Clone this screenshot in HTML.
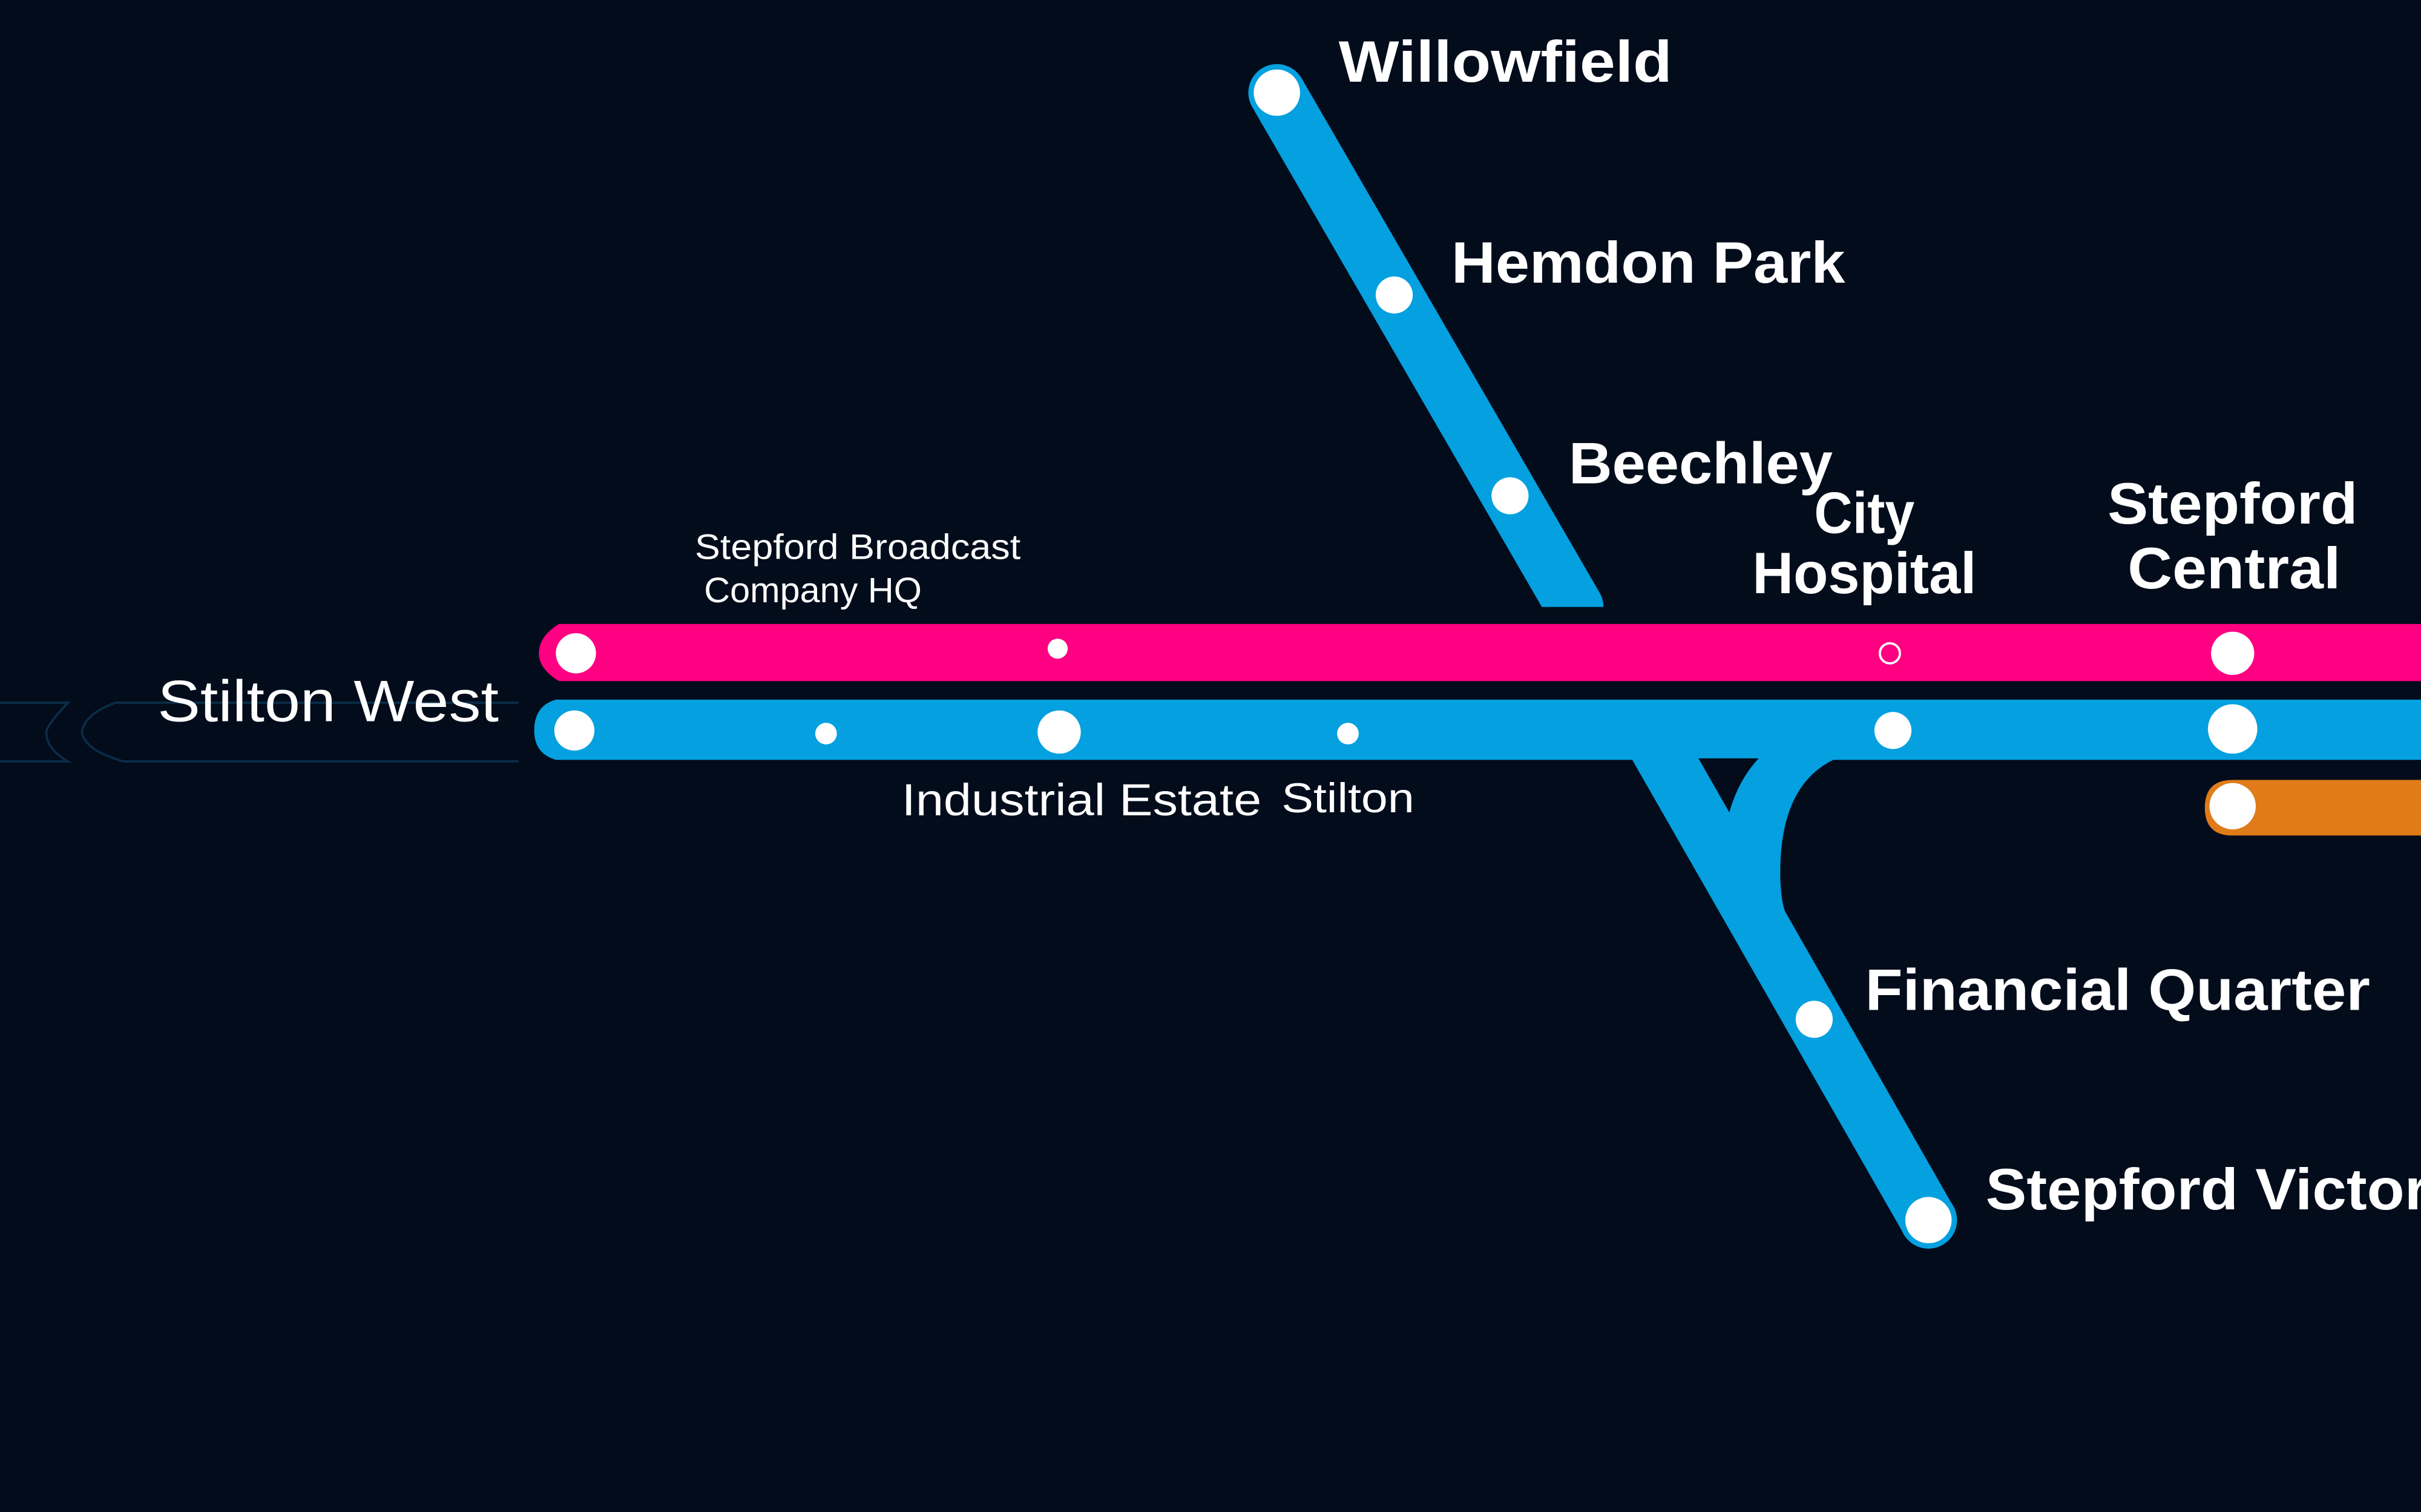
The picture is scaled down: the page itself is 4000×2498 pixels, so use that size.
<!DOCTYPE html>
<html><head><meta charset="utf-8"><style>
html,body{margin:0;padding:0;background:#020c1b;}
svg{display:block;}
text{font-family:"Liberation Sans",sans-serif;fill:#fff;}
.b{font-weight:bold;font-size:38px;}
</style></head><body>
<svg width="4000" height="2498" viewBox="0 0 1568 979" preserveAspectRatio="none" xmlns="http://www.w3.org/2000/svg">
<rect width="1568" height="979" fill="#020c1b"/>
<path d="M0,455 H44 Q30,470 30,474 Q30,485 44,493 H0" fill="none" stroke="#0b2c48" stroke-width="1.5"/>
<path d="M336,455 H75 Q55,462 53,474 Q55,486 80,493 H336" fill="none" stroke="#0b2c48" stroke-width="1.5"/>
<path d="M827,60 L1020,393" stroke="#04a0e0" stroke-width="37" stroke-linecap="round" fill="none"/>
<rect x="990" y="393" width="60" height="12" fill="#020c1b"/>
<path d="M362,404 H1568 V441 H362 Q349,433 349,423 Q349,412 362,404 Z" fill="#fe0081"/>
<path d="M360,453 H1568 V492 H360 Q346,488 346,473 Q346,457 360,453 Z" fill="#04a0e0"/>
<path d="M1090,490 L1192,490 Q1153,505 1153,565 Q1153,585 1158,595 L1125,595 Z" fill="#04a0e0"/>
<path d="M1100,491 L1139,491 Q1126,505 1120,526 Z" fill="#020c1b"/>
<path d="M1056,490 L1099,490 L1265,781 L1233,799 Z" fill="#04a0e0"/>
<circle cx="1249" cy="790" r="18.5" fill="#04a0e0"/>
<path d="M1446,505 H1568 V541 H1446 Q1428,541 1428,523 Q1428,505 1446,505 Z" fill="#e07b1a"/>
<g fill="#fff">
<circle cx="827" cy="60" r="15"/>
<circle cx="903" cy="191" r="12"/>
<circle cx="978" cy="321" r="12"/>
<circle cx="1175" cy="660" r="12"/>
<circle cx="1249" cy="790" r="15"/>
<circle cx="373" cy="423" r="13"/>
<circle cx="685" cy="420" r="6.5"/>
<circle cx="1446" cy="423" r="14"/>
<circle cx="372" cy="473" r="13"/>
<circle cx="535" cy="475" r="7"/>
<circle cx="686" cy="474" r="14"/>
<circle cx="873" cy="475" r="7"/>
<circle cx="1226" cy="473" r="12"/>
<circle cx="1446" cy="472" r="16"/>
<circle cx="1446" cy="522" r="15"/>
</g>
<circle cx="1224" cy="423" r="6.5" fill="none" stroke="#fff" stroke-width="1.5"/>
<text class="b" x="867" y="53" textLength="216" lengthAdjust="spacingAndGlyphs">Willowfield</text>
<text class="b" x="940" y="183" textLength="255" lengthAdjust="spacingAndGlyphs">Hemdon Park</text>
<text class="b" x="1016" y="313" textLength="171" lengthAdjust="spacingAndGlyphs">Beechley</text>
<text class="b" x="1175" y="345" textLength="65" lengthAdjust="spacingAndGlyphs">City</text>
<text class="b" x="1135" y="384" textLength="145" lengthAdjust="spacingAndGlyphs">Hospital</text>
<text class="b" x="1365" y="339" textLength="162" lengthAdjust="spacingAndGlyphs">Stepford</text>
<text class="b" x="1378" y="381" textLength="138" lengthAdjust="spacingAndGlyphs">Central</text>
<text class="b" x="1208" y="654" textLength="327" lengthAdjust="spacingAndGlyphs">Financial Quarter</text>
<text class="b" x="1286" y="783" textLength="320" lengthAdjust="spacingAndGlyphs">Stepford Victoria</text>
<text x="102" y="467" font-size="38" textLength="221" lengthAdjust="spacingAndGlyphs">Stilton West</text>
<text x="450" y="362" font-size="23" textLength="211" lengthAdjust="spacingAndGlyphs">Stepford Broadcast</text>
<text x="456" y="390" font-size="23" textLength="141" lengthAdjust="spacingAndGlyphs">Company HQ</text>
<text x="584" y="528" font-size="29" textLength="233" lengthAdjust="spacingAndGlyphs">Industrial Estate</text>
<text x="830" y="526" font-size="27" textLength="86" lengthAdjust="spacingAndGlyphs">Stilton</text>
</svg>
</body></html>
